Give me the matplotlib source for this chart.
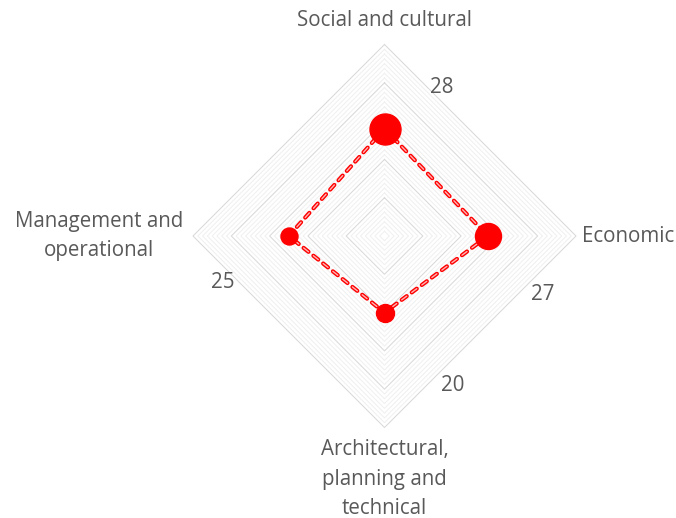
import numpy as np
import matplotlib.pyplot as plt

plt.rcParams['font.family'] = ['Open Sans', 'DejaVu Sans']
plt.rcParams['lines.scale_dashes'] = False

categories = ['Social and cultural', 'Economic',
              'Architectural,\nplanning and\ntechnical',
              'Management and\noperational']
values = [28, 27, 20, 25]
value_labels = ['28', '27', '20', '25']

r_max = 50
major_step = 10
minor_step = 1.25

# clockwise from the top
angles = np.deg2rad([90, 0, -90, 180])

# style bits
marker_px = [31, 26, 18, 17]
label_offsets = [(57, 41), (55, -59), (68, -73), (-66, -47)]
text_col = '#595959'
fs = 14.8

fig = plt.figure(figsize=(6.76, 5.18), dpi=100)
ax = fig.add_axes([0, 0, 1, 1])
scale = 3.83  # pixels per unit
cx, cy = 384.5, 518 - 236
ax.set_xlim(-cx / scale, (676 - cx) / scale)
ax.set_ylim(-cy / scale, (518 - cy) / scale)
ax.axis('off')

ca = np.append(np.cos(angles), np.cos(angles[0]))
sa = np.append(np.sin(angles), np.sin(angles[0]))

# diamond grid
levels = np.arange(minor_step, r_max + 0.01, minor_step)
for r in levels:
    if abs(r / major_step - round(r / major_step)) > 1e-6:
        ax.plot(r * ca, r * sa, color='#f0f0f0', lw=0.75, zorder=1)
for r in np.arange(major_step, r_max + 0.01, major_step):
    ax.plot(r * ca, r * sa, color='#d9d9d9', lw=0.75, zorder=2)

# series
v = np.append(values, values[0])
ax.plot(v * ca, v * sa, color='red', lw=3.0, ls=(0, (4.5, 4.5)),
        dash_capstyle='round', zorder=3)
ax.plot(v * ca, v * sa, color='#ffb3b3', lw=1.0, ls=(0, (4.5, 4.5)),
        dash_capstyle='round', zorder=4)
for val, a, m in zip(values, angles, marker_px):
    ax.plot(val * np.cos(a), val * np.sin(a), 'o', color='red',
            ms=m * 0.72, mec='red', zorder=5)

# value labels
for val, a, lab, off in zip(values, angles, value_labels, label_offsets):
    ax.annotate(lab, xy=(val * np.cos(a), val * np.sin(a)), xytext=off,
                textcoords='offset pixels', ha='center', va='center',
                fontsize=fs, color=text_col)

# category labels
cat_style = [
    dict(xytext=(0, 18), ha='center', va='baseline'),
    dict(xytext=(6, 0), ha='left', va='center'),
    dict(xytext=(0, -12), ha='center', va='top'),
    dict(xytext=(-10, 0), ha='right', va='center'),
]
for cat, a, st in zip(categories, angles, cat_style):
    ax.annotate(cat, xy=(r_max * np.cos(a), r_max * np.sin(a)),
                textcoords='offset pixels', multialignment='center',
                linespacing=1.5, fontsize=fs, color=text_col, **st)

plt.savefig('out.png', dpi=100)
